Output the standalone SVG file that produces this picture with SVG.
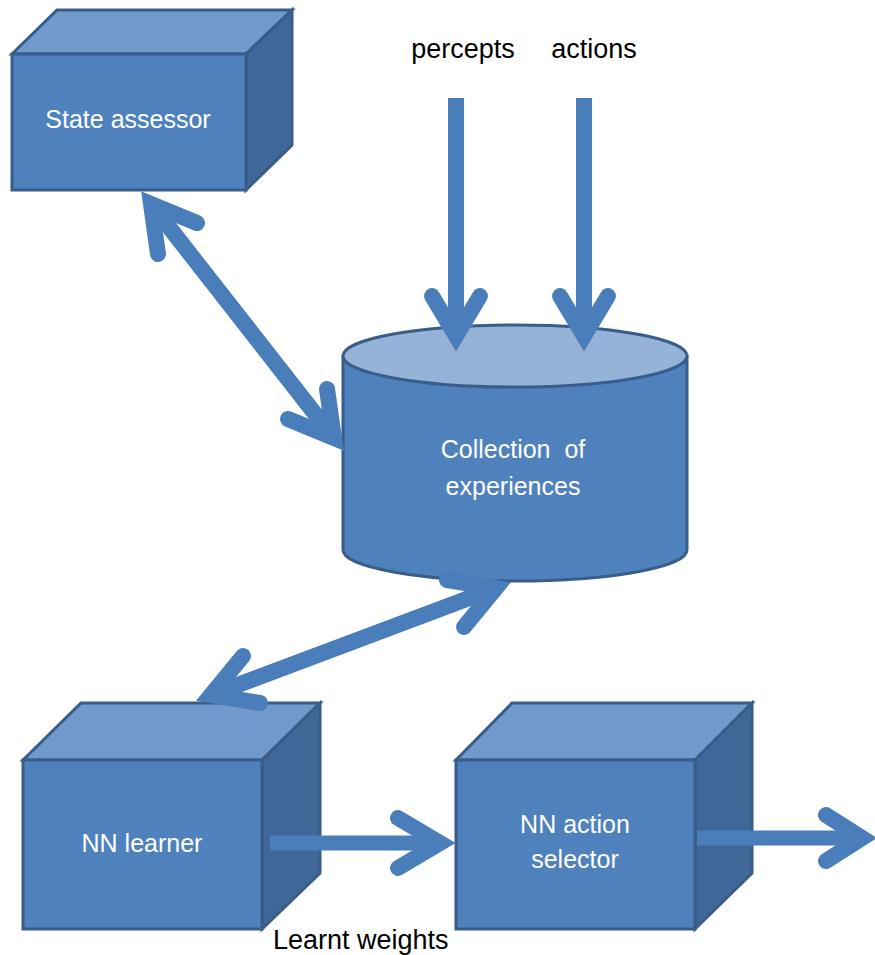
<svg xmlns="http://www.w3.org/2000/svg" width="875" height="955" viewBox="0 0 875 955">
<style>
.front{fill:#4F81BD;stroke:#385D8A;stroke-width:3;stroke-linejoin:miter}
.top{fill:#7199CC;stroke:#385D8A;stroke-width:3}
.side{fill:#3F6797;stroke:#385D8A;stroke-width:3}
.ctop{fill:#95B3D7;stroke:#385D8A;stroke-width:3}
.lbl{font-family:"Liberation Sans",Arial,sans-serif;font-size:25px;fill:#FFFFFF;text-anchor:middle}
.txt{font-family:"Liberation Sans",Arial,sans-serif;font-size:27px;fill:#000000}
.shaft{fill:none;stroke:#4A7EBB;stroke-width:16;stroke-linecap:butt}
.head{fill:none;stroke:#4A7EBB;stroke-width:16;stroke-linecap:round;stroke-linejoin:miter;stroke-miterlimit:6}
</style>
<rect width="875" height="955" fill="#FFFFFF"/>
<g id="state-assessor">
<polygon class="top" points="12,54 57,10 292,10 246,54"/>
<polygon class="side" points="246,54 292,10 292,145 246,190"/>
<rect class="front" x="12" y="54" width="234" height="136"/>
<text class="lbl" x="128" y="128">State assessor</text>
</g>
<g id="collection">
<path class="front" d="M343,356 L343,550 A172,31 0 0 0 687,550 L687,356 Z"/>
<ellipse class="ctop" cx="515" cy="356" rx="172" ry="31"/>
<text class="lbl" x="513" y="458" xml:space="preserve" style="white-space:pre">Collection  of</text>
<text class="lbl" x="513" y="495">experiences</text>
</g>
<g id="nn-learner">
<polygon class="top" points="23,760 81,703 320,703 262,760"/>
<polygon class="side" points="262,760 320,703 320,873 262,929"/>
<rect class="front" x="23" y="760" width="239" height="169"/>
<text class="lbl" x="142" y="852">NN learner</text>
</g>
<g id="nn-action-selector">
<polygon class="top" points="456,760 512,703 752,703 695,760"/>
<polygon class="side" points="695,760 752,703 752,873 695,929"/>
<rect class="front" x="456" y="760" width="239" height="169"/>
<text class="lbl" x="575" y="833">NN action</text>
<text class="lbl" x="575" y="868">selector</text>
</g>
<g id="labels">
<text class="txt" x="463" y="58" text-anchor="middle">percepts</text>
<text class="txt" x="594" y="58" text-anchor="middle">actions</text>
<text class="txt" x="273" y="949">Learnt weights</text>
</g>
<g id="connectors">
<line class="shaft" x1="456" y1="98" x2="456" y2="336"/>
<polyline class="head" points="432,296 456,336 480,296"/>
<line class="shaft" x1="584" y1="98" x2="584" y2="336"/>
<polyline class="head" points="560,296 584,336 608,296"/>
<line class="shaft" x1="151" y1="204" x2="334" y2="438"/>
<polyline class="head" points="197,223 151,204 158,254"/>
<polyline class="head" points="288,419 334,438 327,389"/>
<line class="shaft" x1="496" y1="588" x2="211" y2="695"/>
<polyline class="head" points="464,627 496,588 447,580"/>
<polyline class="head" points="243,656 211,695 260,703"/>
<line class="shaft" x1="270" y1="843" x2="440" y2="843" style="stroke-width:15"/>
<polyline class="head" points="398,818 440,843 398,868"/>
<line class="shaft" x1="697" y1="838" x2="862" y2="838" style="stroke-width:15"/>
<polyline class="head" points="826,815 862,838 826,861"/>
</g>
</svg>
